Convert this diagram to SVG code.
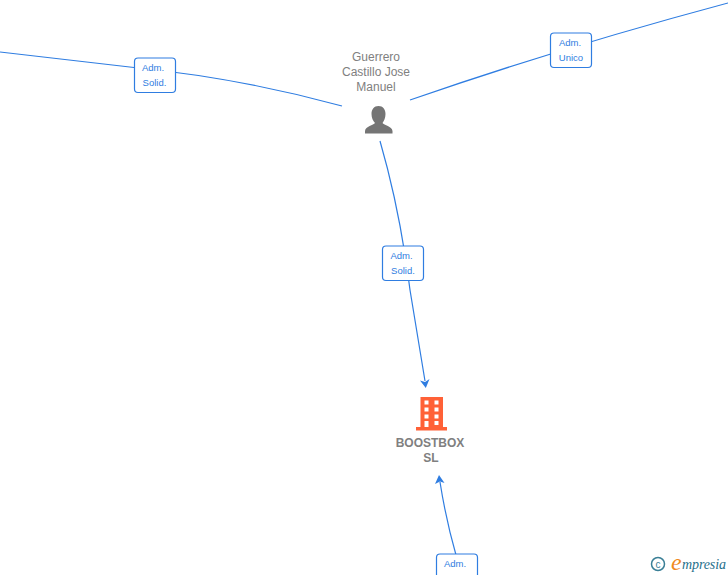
<svg xmlns="http://www.w3.org/2000/svg" width="728" height="575" viewBox="0 0 728 575">
<style>
text{font-family:"Liberation Sans",Arial,sans-serif}
.c{fill:none;stroke:#2f7de1;stroke-width:1.2}
.a{fill:#2f7de1}
.b{fill:#fff;stroke:#2f7de1;stroke-width:1.2}
.l{font-size:9.500px;fill:#2f7de1;text-anchor:middle}
.n{font-size:12px;fill:#808080;text-anchor:middle}
.t{font-size:12px;font-weight:bold;fill:#808080;text-anchor:middle}
</style>
<rect width="728" height="575" fill="#fff"/>
<g id="connectors">
<path class="c" d="M0 52L134 67.500Q240 78 342 106"/>
<path class="c" d="M410 100Q560 48 728 3"/>
<path class="c" d="M380 141Q400 210 410 290L425 381"/>
<path class="a" d="M425.800 388L420 380.500L425 382L429.500 379Z"/>
<path class="c" d="M456 555Q446 520 440 482"/>
<path class="a" d="M439 475L444.500 483L440 481.500L435 484Z"/>
</g>
<g id="label-1"><rect class="b" x="134.500" y="58" width="41" height="34.500" rx="3.500"/><text class="l" x="153" y="71">Adm.</text><text class="l" x="154.500" y="86">Solid.</text></g>
<g id="label-2"><rect class="b" x="550.500" y="33" width="41" height="34.500" rx="3.500"/><text class="l" x="570" y="46">Adm.</text><text class="l" x="571" y="61">Unico</text></g>
<g id="label-3"><rect class="b" x="382.500" y="246" width="41" height="34.500" rx="3.500"/><text class="l" x="401.500" y="259">Adm.</text><text class="l" x="403" y="274">Solid.</text></g>
<g id="label-4"><rect class="b" x="436.500" y="554" width="41" height="34.500" rx="3.500"/><text class="l" x="455" y="567">Adm.</text></g>
<g id="person">
<text class="n" x="376" y="61">Guerrero</text><text class="n" x="376" y="76">Castillo Jose</text><text class="n" x="376" y="91">Manuel</text>
<path fill="#757575" d="M378.500 106C383 106 385.500 109.500 385.500 114C385.500 118 384 121 382.500 123C384 125.500 392 126 392.500 131V133.500H365V131C365.500 126 373.500 125.500 375 123C373 121 371.500 118 371.500 114C371.500 109.500 374 106 378.500 106Z"/>
</g>
<g id="company">
<path fill="#ff6137" d="M420.500 397H443V427H447V430.500H416V427H420.500Z"/>
<g fill="#fff"><rect x="424.500" y="400.500" width="4" height="4"/><rect x="434.500" y="400.500" width="4" height="4"/><rect x="424.500" y="407.500" width="4" height="4"/><rect x="434.500" y="407.500" width="4" height="4"/><rect x="424.500" y="414.500" width="4" height="4"/><rect x="434.500" y="414.500" width="4" height="4"/><rect x="424.500" y="421" width="4" height="6"/><rect x="434.500" y="421" width="4" height="4"/></g>
<text class="t" x="430" y="447">BOOSTBOX</text><text class="t" x="431" y="462">SL</text>
</g>
<g id="logo">
<circle cx="658" cy="564" r="6.500" fill="none" stroke="#3a7f96" stroke-width="1.500"/>
<text x="658" y="567.500" font-size="10" fill="#3a7f96" text-anchor="middle">c</text>
<text x="671" y="569.500" font-size="24" font-style="italic" fill="#f08a1d" style="font-family:'Liberation Serif',serif">e</text>
<text x="682" y="569" font-size="14" font-style="italic" fill="#1f6f8b" textLength="44" style="font-family:'Liberation Serif',serif">mpresia</text>
</g>
</svg>
